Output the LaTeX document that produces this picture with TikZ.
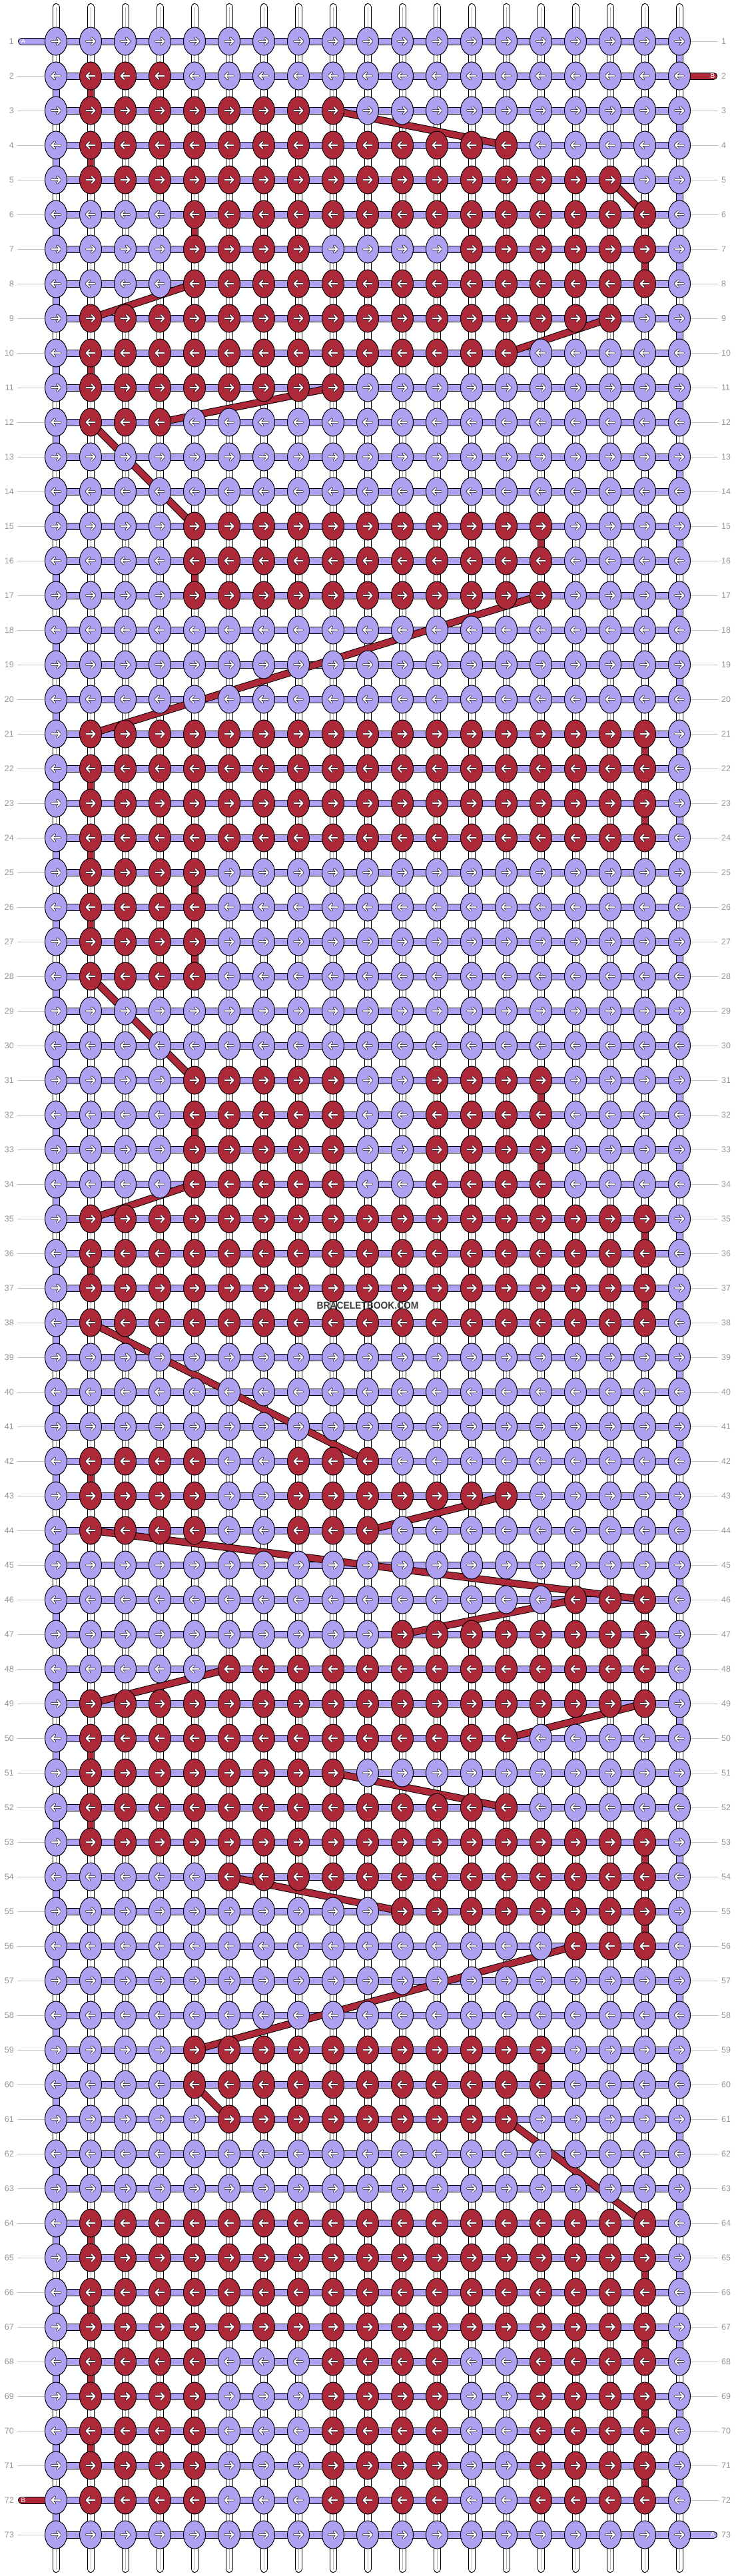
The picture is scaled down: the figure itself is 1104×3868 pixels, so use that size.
\documentclass[tikz,border=0pt]{standalone}
\usepackage{fontspec}
\setmainfont{Liberation Sans}
\usetikzlibrary{shapes.geometric}
\definecolor{knotA}{RGB}{175,160,242}
\definecolor{knotB}{RGB}{173,40,56}
\definecolor{numgray}{RGB}{150,150,150}
\definecolor{linegray}{RGB}{190,190,190}
\pgfdeclarelayer{strings}
\pgfsetlayers{strings,main}
\tikzset{
    knota/.style = {ellipse, draw=black, line width=1pt, fill=knotA, minimum width=33pt, minimum height=42pt, inner sep=0pt},
    knotb/.style = {knota, fill=knotB},
    warp/.style = {line width=1pt, draw=black, double=white, double distance=9pt, line cap=round},
    warpmid/.style = {line width=0.9pt, draw=gray!60},
    stra/.style = {line width=1pt, draw=black, double=knotA, double distance=9pt},
    strb/.style = {line width=1pt, draw=black, double=knotB, double distance=9pt},
    rowline/.style = {draw=linegray, line width=1pt},
    rownum/.style = {font=\fontsize{12.5}{12.5}\selectfont, text=numgray, inner sep=0pt},
    endlabel/.style = {font=\fontsize{10}{10}\selectfont, text=white, inner sep=0pt},
    knotarrow/.pic = {
        \draw[line width=3.3pt, line cap=round, line join=round] (-6.5,0) -- (6.5,0) (1.5,-5) -- (6.5,0) -- (1.5,5);
        \draw[white, line width=2.1pt, line cap=round, line join=round] (-6.5,0) -- (6.5,0) (1.5,-5) -- (6.5,0) -- (1.5,5);
    }
}

\begin{document}
\begin{tikzpicture}[x=1pt, y=-1pt]
\useasboundingbox (0,0) rectangle (1104,3868);
%
% red knots: row/first/last
\foreach \r/\a/\b in {2/2/4, 3/2/9, 4/2/14, 5/2/17, 6/5/18, 7/5/8, 7/13/18, 8/5/18, 9/2/17, 10/2/14, 11/2/9, 12/2/4,
    15/5/15, 16/5/15, 17/5/15,
    21/2/18, 22/2/18, 23/2/18, 24/2/18, 25/2/5, 26/2/5, 27/2/5, 28/2/5,
    31/5/9, 31/12/15, 32/5/9, 32/12/15, 33/5/9, 33/12/15, 34/5/9, 34/12/15,
    35/2/18, 36/2/18, 37/2/18, 38/2/18,
    42/2/5, 42/8/10, 43/2/5, 43/8/14, 44/2/5, 44/8/10,
    46/16/18, 47/11/18, 48/6/18, 49/2/18, 50/2/14, 51/2/9, 52/2/14, 53/2/18, 54/6/18, 55/11/18, 56/16/18,
    59/5/15, 60/5/15, 61/6/14,
    64/2/18, 65/2/18, 66/2/18, 67/2/18,
    68/2/5, 68/9/12, 68/15/18, 69/2/5, 69/9/12, 69/15/18, 70/2/5, 70/9/12, 70/15/18,
    71/2/5, 71/9/12, 71/15/18, 72/2/5, 72/9/12, 72/15/18}{
    \foreach \c in {\a,...,\b}{\expandafter\gdef\csname isred\r-\c\endcsname{}}}
%
% knots
\foreach \r in {1,...,73}{
    \pgfmathtruncatemacro\dir{isodd(\r) ? 1 : -1}
    \foreach \c in {1,...,19}{
        \ifcsname isred\r-\c\endcsname\def\kst{knotb}\else\def\kst{knota}\fi
        \node[\kst] (k\r-\c) at (32+52*\c, 10+52*\r) {};
        \pic[xscale=\dir] at (k\r-\c) {knotarrow};
    }
}
%
\begin{pgfonlayer}{strings}
% base strings
\foreach \c in {1,...,19}{
    \coordinate (top\c) at (32+52*\c, 10.5);
    \coordinate (bot\c) at (32+52*\c, 3857.5);
    \draw[warp] (top\c) -- (bot\c);
    \draw[warpmid] (top\c) -- (bot\c);
}
% rows
\foreach \r in {1,...,73}
    \draw[stra] (k\r-1.center) -- (k\r-19.center);
% ends
\coordinate (endA1) at (32.5,62);
\coordinate (endB1) at (1071.5,114);
\coordinate (endB2) at (32.5,3754);
\coordinate (endA2) at (1071.5,3806);
\draw[stra, line cap=round] (endA1) -- (k1-1.center);
\draw[strb, line cap=round] (k2-19.center) -- (endB1);
\draw[strb, line cap=round] (endB2) -- (k72-1.center);
\draw[stra, line cap=round] (k73-19.center) -- (endA2);
% turns of A
\foreach \r [evaluate=\r as \s using int(\r+1)] in {2,4,...,72}
    \draw[stra] (k\r-1.center) -- (k\s-1.center);
\foreach \r [evaluate=\r as \s using int(\r+1)] in {1,3,...,71}
    \draw[stra] (k\r-19.center) -- (k\s-19.center);
% turns of B
\foreach \r/\c [evaluate=\r as \s using int(\r+1)] in {2/2, 4/2, 6/5, 7/18, 10/2, 15/15, 16/5, 21/18, 22/2, 23/18, 24/2,
    25/5, 26/2, 27/5, 31/15, 32/5, 33/15, 35/18, 36/2, 37/18, 42/2, 47/18, 50/2, 52/2, 53/18, 55/18, 59/15,
    64/2, 65/18, 66/2, 67/18, 68/2, 69/18, 70/2, 71/18}
    \draw[strb] (k\r-\c.center) -- (k\s-\c.center);
% floats of B
\foreach \r/\c/\s/\d in {3/9/4/14, 5/17/6/18, 8/5/9/2, 9/17/10/14, 11/9/12/4, 12/2/15/5, 17/15/21/2, 28/2/31/5,
    34/5/35/2, 38/2/42/10, 43/14/44/10, 44/2/46/18, 46/16/47/11, 48/6/49/2, 49/18/50/14, 51/9/52/14,
    54/6/55/11, 56/16/59/5, 60/5/61/6, 61/14/64/18}
    \draw[strb] (k\r-\c.center) -- (k\s-\d.center);
\end{pgfonlayer}
%
% row numbers
\foreach \r in {1,...,73}{
    \node[rownum, anchor=east] (ln\r) at (21, 10+52*\r) {\r};
    \node[rownum, anchor=west] (rn\r) at (1083, 10+52*\r) {\r};
}
\foreach \r in {2,...,71,73}
    \draw[rowline, shorten <=5pt] (ln\r.east) -- (k\r-1.west);
\foreach \r in {1,3,4,...,72}
    \draw[rowline, shorten >=5pt] (k\r-19.east) -- (rn\r.west);
%
\node[endlabel] (labA1) at (35,62) {A};
\node[endlabel] (labB1) at (1070,114) {B};
\node[endlabel] (labB2) at (35,3754) {B};
\node[endlabel] (labA2) at (1070,3806) {A};
%
\node[font=\bfseries\fontsize{15}{15}\selectfont, text=black!78, xscale=0.92, transform shape] (site) at (552,1960) {BRACELETBOOK.COM};

\end{tikzpicture}
\end{document}
